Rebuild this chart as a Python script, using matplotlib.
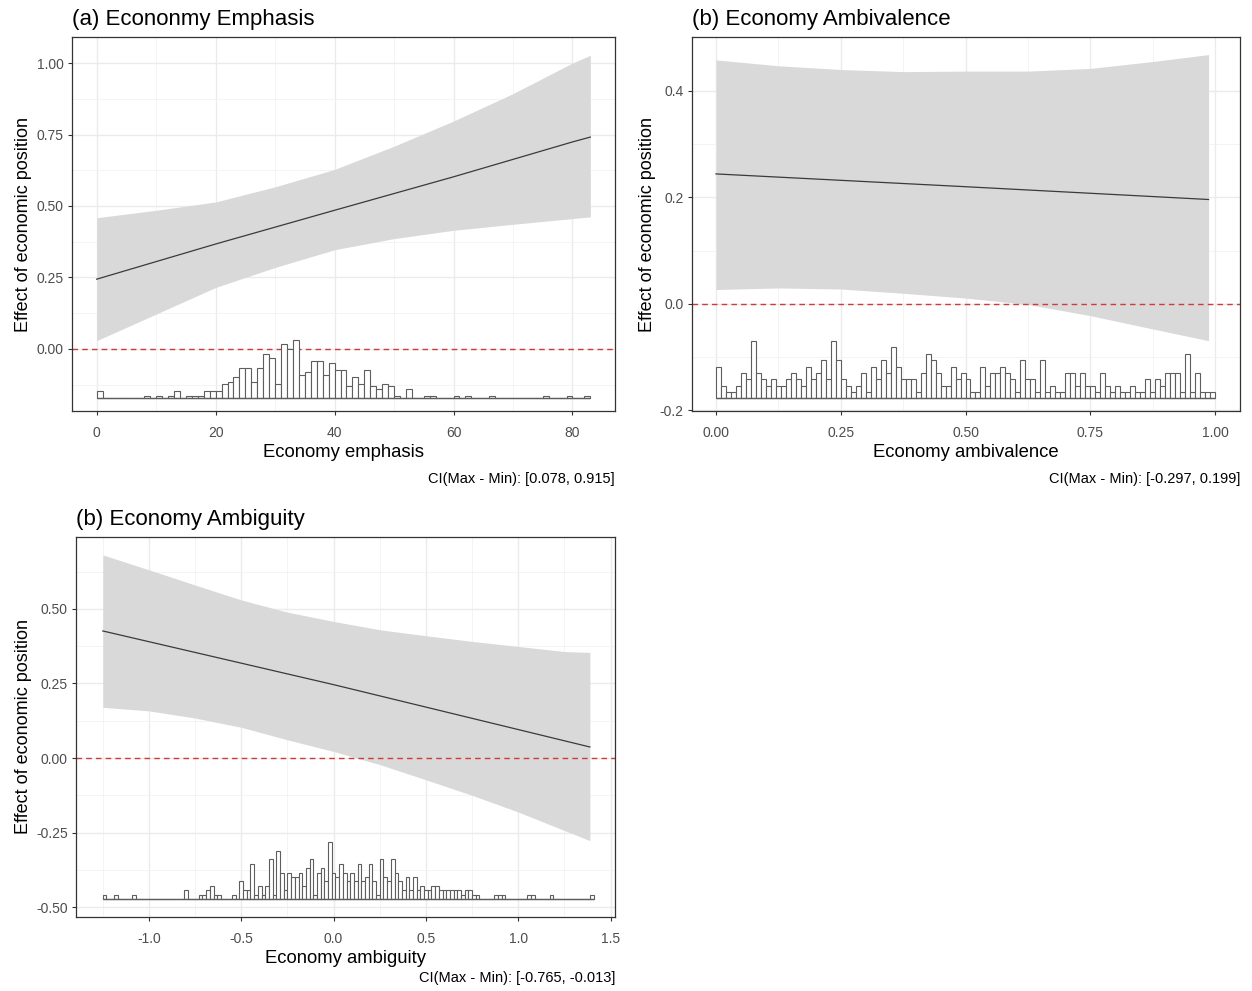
import numpy as np
import matplotlib
matplotlib.use('Agg')
import matplotlib.pyplot as plt
from matplotlib.ticker import FixedLocator

plt.rcParams['font.family'] = ['Liberation Sans', 'DejaVu Sans']

# ---- (a) economy emphasis ----
emph_x = [0, 10, 20, 30, 40, 50, 60, 70, 80, 83]
emph_lo = [0.029, 0.122, 0.215, 0.285, 0.347, 0.386, 0.415, 0.436, 0.456, 0.462]
emph_hi = [0.459, 0.485, 0.514, 0.567, 0.628, 0.709, 0.797, 0.893, 1.000, 1.027]
emph_line_x = [0, 20, 40, 60, 80, 83]
emph_line_y = [0.244, 0.367, 0.485, 0.602, 0.724, 0.741]
emph_counts = [3, 0, 0, 0, 0, 0, 0, 0, 1, 0, 1, 0, 1, 3, 0, 1, 1, 1, 3, 3,
               3, 6, 7, 9, 13, 13, 7, 13, 19, 17, 6, 23, 21, 25, 10, 11, 16, 16, 10, 15,
               12, 12, 5, 9, 6, 12, 5, 4, 6, 5, 1, 0, 4, 0, 0, 1, 1, 0, 0, 0,
               1, 0, 1, 0, 0, 0, 1, 0, 0, 0, 0, 0, 0, 0, 0, 1, 0, 0, 0, 1,
               0, 0, 1]

# ---- (b) economy ambivalence ----
amb_x = [0, 0.125, 0.25, 0.375, 0.5, 0.625, 0.75, 0.875, 0.987]
amb_lo = [0.027, 0.030, 0.028, 0.020, 0.011, -0.001, -0.022, -0.047, -0.069]
amb_hi = [0.458, 0.447, 0.440, 0.436, 0.437, 0.437, 0.442, 0.455, 0.468]
amb_line_x = [0, 0.5, 0.987]
amb_line_y = [0.244, 0.220, 0.196]
amb_counts = [5, 2, 1, 1, 2, 4, 3, 9, 4, 3, 2, 3, 2, 2, 3, 4, 3, 2, 5, 3,
              4, 6, 3, 9, 6, 3, 2, 1, 2, 4, 1, 5, 3, 6, 4, 8, 5, 3, 3, 3,
              1, 4, 7, 6, 4, 2, 2, 5, 3, 4, 3, 1, 1, 5, 2, 4, 4, 5, 4, 3,
              1, 6, 3, 3, 1, 6, 1, 2, 1, 1, 4, 4, 2, 4, 2, 2, 1, 4, 2, 1,
              2, 1, 1, 2, 1, 1, 3, 1, 3, 2, 4, 4, 4, 1, 7, 1, 4, 1, 1, 1]

# ---- (b) economy ambiguity ----
ambg_x = [-1.25, -1.0, -0.75, -0.5, -0.25, 0.0, 0.25, 0.5, 0.75, 1.0, 1.25, 1.388]
ambg_lo = [0.170, 0.158, 0.134, 0.103, 0.061, 0.022, -0.022, -0.073, -0.125, -0.181, -0.243, -0.277]
ambg_hi = [0.681, 0.631, 0.580, 0.530, 0.489, 0.458, 0.430, 0.410, 0.391, 0.374, 0.357, 0.354]
ambg_line_x = [-1.25, 0.0, 1.388]
ambg_line_y = [0.426, 0.246, 0.037]
ambg_counts = [1, 0, 0, 1, 0, 0, 0, 0, 1, 0, 0, 0, 0, 0, 0, 0, 0, 0, 0, 0,
               0, 0, 2, 0, 0, 0, 1, 1, 2, 3, 1, 1, 0, 0, 0, 1, 0, 4, 2, 2,
               8, 1, 3, 1, 3, 9, 1, 11, 6, 2, 6, 5, 5, 6, 3, 7, 9, 1, 6, 7,
               4, 13, 6, 5, 8, 6, 4, 6, 4, 8, 4, 5, 8, 4, 1, 9, 5, 4, 9, 6,
               4, 2, 5, 2, 5, 2, 3, 2, 2, 3, 3, 2, 2, 2, 2, 2, 2, 1, 2, 2,
               1, 1, 0, 0, 0, 0, 1, 1, 1, 0, 0, 0, 0, 0, 0, 1, 1, 0, 0, 0,
               0, 1, 0, 0, 0, 0, 0, 0, 0, 0, 0, 0, 1]

W, H = 1252, 991
fig = plt.figure(figsize=(W / 100, H / 100), dpi=100)


def box(l, t, r, b):
    return [l / W, 1 - b / H, (r - l) / W, (b - t) / H]


def panel(rect, title, xlab, caption, cap_xy,
          rx, lo, hi, lx, ly, counts, h_start, h_width, h_base, h_unit,
          xlim, ylim, xt, xtl, xminor, yt, ytl, yminor):
    ax = fig.add_axes(rect)
    ax.set_xlim(xlim)
    ax.set_ylim(ylim)
    ax.xaxis.set_major_locator(FixedLocator(xt))
    ax.yaxis.set_major_locator(FixedLocator(yt))
    ax.xaxis.set_minor_locator(FixedLocator(xminor))
    ax.yaxis.set_minor_locator(FixedLocator(yminor))
    ax.set_xticklabels(xtl)
    ax.set_yticklabels(ytl)
    ax.grid(which='major', color='#ebebeb', lw=1.0, zorder=0)
    ax.grid(which='minor', color='#f2f2f2', lw=0.6, zorder=0)
    ax.set_axisbelow(True)
    ax.tick_params(which='minor', length=0)
    ax.tick_params(which='major', length=3, width=0.8, color='#333333',
                   labelsize=10, labelcolor='#4d4d4d', pad=3)
    ax.tick_params(axis='x', which='major', pad=8)
    for s in ax.spines.values():
        s.set_color('#333333')
        s.set_linewidth(0.9)

    ax.fill_between(rx, lo, hi, color='#d9d9d9', lw=0, zorder=1)
    ax.plot(lx, ly, color='#3a3a3a', lw=0.9, zorder=3)
    ax.axhline(0, color='#d03a3a', lw=1.0, ls=(0, (4, 3)), zorder=2)

    counts = np.array(counts)
    lefts = h_start + h_width * np.arange(len(counts))
    ax.bar(lefts, counts * h_unit, width=h_width, bottom=h_base, align='edge',
           color='white', edgecolor='#5e5e5e', lw=0.8, zorder=4)
    ax.hlines(h_base, lefts[0], lefts[-1] + h_width, color='#5e5e5e', lw=1.0, zorder=4)

    ax.set_title(title, loc='left', fontsize=16, pad=9, color='black')
    ax.set_xlabel(xlab, fontsize=13.3, labelpad=3, color='black')
    ax.set_ylabel('Effect of economic position', fontsize=13, labelpad=3, color='black')
    fig.text(cap_xy[0] / W, 1 - cap_xy[1] / H, caption, ha='right', va='center',
             fontsize=10.5, color='black')
    return ax


panel(box(72, 37, 615, 411), '(a) Econonmy Emphasis', 'Economy emphasis',
      'CI(Max - Min): [0.078, 0.915]', (615, 479),
      emph_x, emph_lo, emph_hi, emph_line_x, emph_line_y,
      emph_counts, 0, 1.0, -0.172, 0.0082,
      (-4.15, 87.15), (-0.217, 1.091),
      [0, 20, 40, 60, 80], ['0', '20', '40', '60', '80'], [10, 30, 50, 70],
      [0, 0.25, 0.5, 0.75, 1.0], ['0.00', '0.25', '0.50', '0.75', '1.00'],
      [-0.125, 0.125, 0.375, 0.625, 0.875])

panel(box(692, 37, 1240, 411), '(b) Economy Ambivalence', 'Economy ambivalence',
      'CI(Max - Min): [-0.297, 0.199]', (1240, 479),
      amb_x, amb_lo, amb_hi, amb_line_x, amb_line_y,
      amb_counts, 0, 0.01, -0.177, 0.0119,
      (-0.048, 1.05), (-0.201, 0.501),
      [0, 0.25, 0.5, 0.75, 1.0], ['0.00', '0.25', '0.50', '0.75', '1.00'],
      [0.125, 0.375, 0.625, 0.875],
      [-0.2, 0.0, 0.2, 0.4], ['-0.2', '0.0', '0.2', '0.4'],
      [-0.1, 0.1, 0.3])

panel(box(76, 537, 615, 917), '(b) Economy Ambiguity', 'Economy ambiguity',
      'CI(Max - Min): [-0.765, -0.013]', (615, 978),
      ambg_x, ambg_lo, ambg_hi, ambg_line_x, ambg_line_y,
      ambg_counts, -1.25, 0.02, -0.473, 0.0148,
      (-1.395, 1.524), (-0.533, 0.741),
      [-1.0, -0.5, 0.0, 0.5, 1.0, 1.5], ['-1.0', '-0.5', '0.0', '0.5', '1.0', '1.5'],
      [-1.25, -0.75, -0.25, 0.25, 0.75, 1.25],
      [-0.5, -0.25, 0.0, 0.25, 0.5], ['-0.50', '-0.25', '0.00', '0.25', '0.50'],
      [-0.375, -0.125, 0.125, 0.375, 0.625])

fig.savefig('out.png', dpi=100, facecolor='white')
